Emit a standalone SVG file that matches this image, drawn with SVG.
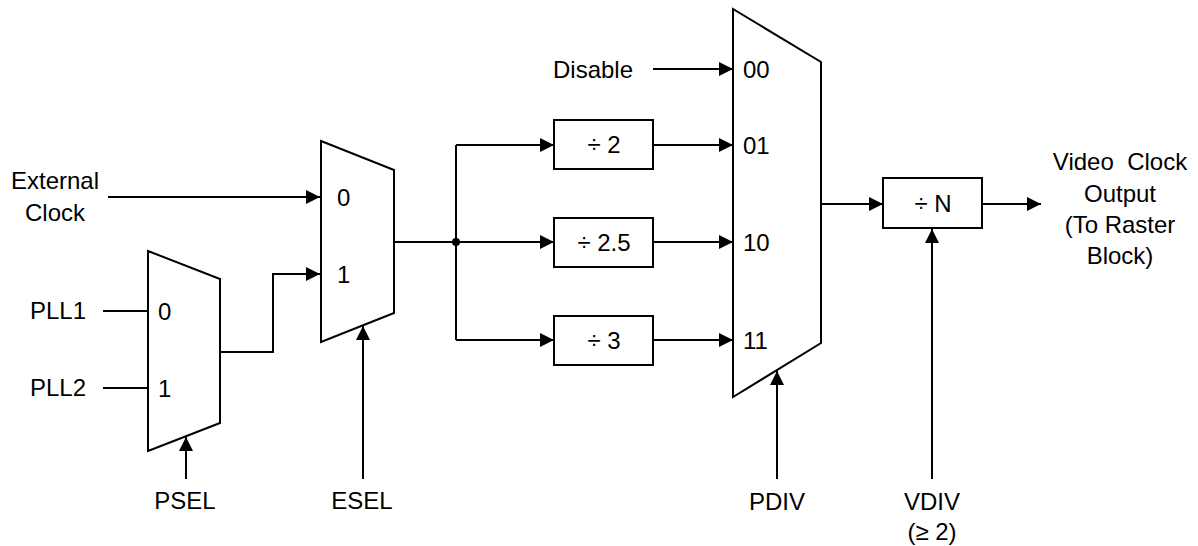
<svg xmlns="http://www.w3.org/2000/svg" width="1198" height="546" viewBox="0 0 1198 546">
<style>
.s{fill:none;stroke:#000;stroke-width:2}
.b{fill:#fff;stroke:#000;stroke-width:2}
text{font-family:"Liberation Sans",Arial,sans-serif;font-size:24px;fill:#000}
.m{text-anchor:middle}
.pre{white-space:pre}
</style>
<defs>
<marker id="ah" markerUnits="userSpaceOnUse" markerWidth="15" markerHeight="15" refX="14" refY="7" orient="auto">
<path d="M0,0 L14,7 L0,14 z" fill="#000"/>
</marker>
</defs>
<rect width="1198" height="546" fill="#fff"/>
<g id="connectors" class="s">
<path d="M108,197 H320" marker-end="url(#ah)"/>
<path d="M103,311 H148"/>
<path d="M103,388 H148"/>
<path d="M220,352 H273 V274 H320" marker-end="url(#ah)"/>
<path d="M186,479 V437" marker-end="url(#ah)"/>
<path d="M363,479 V326" marker-end="url(#ah)"/>
<path d="M394,242 H456"/>
<path d="M456,145 V340"/>
<path d="M456,145 H554" marker-end="url(#ah)"/>
<path d="M456,242 H554" marker-end="url(#ah)"/>
<path d="M456,340 H554" marker-end="url(#ah)"/>
<path d="M653,145 H733" marker-end="url(#ah)"/>
<path d="M653,242 H733" marker-end="url(#ah)"/>
<path d="M653,340 H733" marker-end="url(#ah)"/>
<path d="M653,69 H733" marker-end="url(#ah)"/>
<path d="M777,479 V371" marker-end="url(#ah)"/>
<path d="M821,204 H883" marker-end="url(#ah)"/>
<path d="M982,204 H1041" marker-end="url(#ah)"/>
<path d="M932,479 V229" marker-end="url(#ah)"/>
<circle cx="456" cy="242" r="4" fill="#000" stroke="none"/>
</g>
<g id="psel-mux">
<path class="s" d="M148,251 L220,279 V423 L148,451 Z"/>
<text x="158" y="320">0</text>
<text x="158" y="397">1</text>
</g>
<g id="esel-mux">
<path class="s" d="M321,141 L394,170 V313 L321,342 Z"/>
<text x="337" y="206">0</text>
<text x="337" y="283">1</text>
</g>
<g id="pdiv-mux">
<path class="s" d="M733,9 L821,62 V343 L733,397 Z"/>
<text x="743" y="78">00</text>
<text x="743" y="154">01</text>
<text x="743" y="251">10</text>
<text x="743" y="349">11</text>
</g>
<g id="div2">
<rect class="b" x="554" y="120" width="99" height="49"/>
<text class="m" x="604" y="153">÷ 2</text>
</g>
<g id="div25">
<rect class="b" x="554" y="218" width="99" height="49"/>
<text class="m" x="604" y="251">÷ 2.5</text>
</g>
<g id="div3">
<rect class="b" x="554" y="316" width="99" height="49"/>
<text class="m" x="604" y="349">÷ 3</text>
</g>
<g id="divN">
<rect class="b" x="883" y="178" width="99" height="50"/>
<text class="m" x="933" y="212">÷ N</text>
</g>
<g id="labels">
<text class="m" x="55" y="189">External</text>
<text class="m" x="55" y="221">Clock</text>
<text x="30" y="319">PLL1</text>
<text x="30" y="396">PLL2</text>
<text class="m" x="185" y="509">PSEL</text>
<text class="m" x="362" y="509">ESEL</text>
<text x="553" y="78">Disable</text>
<text class="m" x="777" y="510">PDIV</text>
<text class="m" x="932" y="510">VDIV</text>
<text class="m" x="932" y="540">(≥ 2)</text>
<text class="m pre" x="1120" y="170">Video  Clock</text>
<text class="m" x="1120" y="202">Output</text>
<text class="m" x="1120" y="233">(To Raster</text>
<text class="m" x="1120" y="264">Block)</text>
</g>
</svg>
